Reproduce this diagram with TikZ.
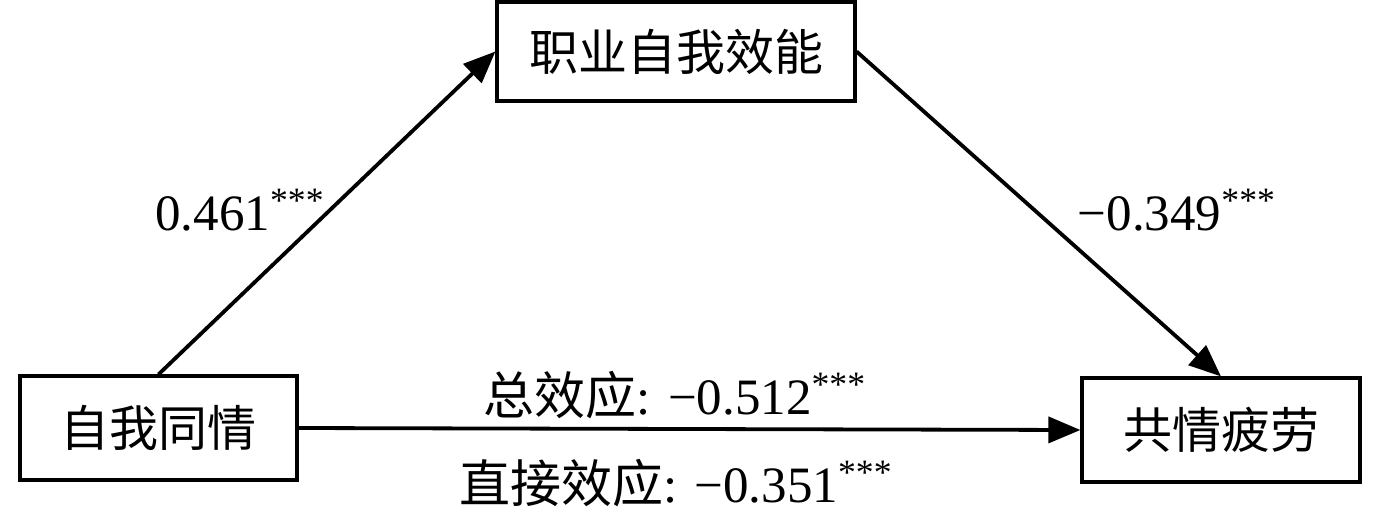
\documentclass[tikz,border=0pt]{standalone}
\usepackage{fontspec}
\setmainfont{Liberation Serif}
\newfontfamily\cjk{Noto Sans CJK SC}
\usetikzlibrary{arrows.meta}
\tikzset{
  box/.style={draw, line width=1.6pt, inner sep=0pt, font=\cjk\fontsize{24.5}{28}\selectfont},
  conn/.style={line width=1.9pt, -{Triangle[length=16pt,width=13pt]}},
  lab/.style={font=\fontsize{25.5}{30}\selectfont, inner sep=0pt}
}
\begin{document}
\begin{tikzpicture}[x=0.5pt,y=-0.5pt]
\useasboundingbox (0,0) rectangle (1378,515);
\node[box, minimum width=138.5pt, minimum height=52pt] (A) at (158.5,428) {自我同情};
\node[box, minimum width=179pt, minimum height=49.5pt] (M) at (676,51.5) {职业自我效能};
\node[box, minimum width=139pt, minimum height=52pt] (Y) at (1221,430) {共情疲劳};
\draw[conn] (A.north) -- (M.west);
\draw[conn] (M.east) -- (Y.north);
\draw[conn] (A.east) -- (Y.west);
\node[lab] (l1) at (240,210) {0.461\textsuperscript{***}};
\node[lab] (l2) at (1177,210) {−0.349\textsuperscript{***}};
\node[lab] (l3) at (675,395) {{\cjk 总效应}: −0.512\textsuperscript{***}};
\node[lab] (l4) at (676,483) {{\cjk 直接效应}: −0.351\textsuperscript{***}};
\end{tikzpicture}
\end{document}
